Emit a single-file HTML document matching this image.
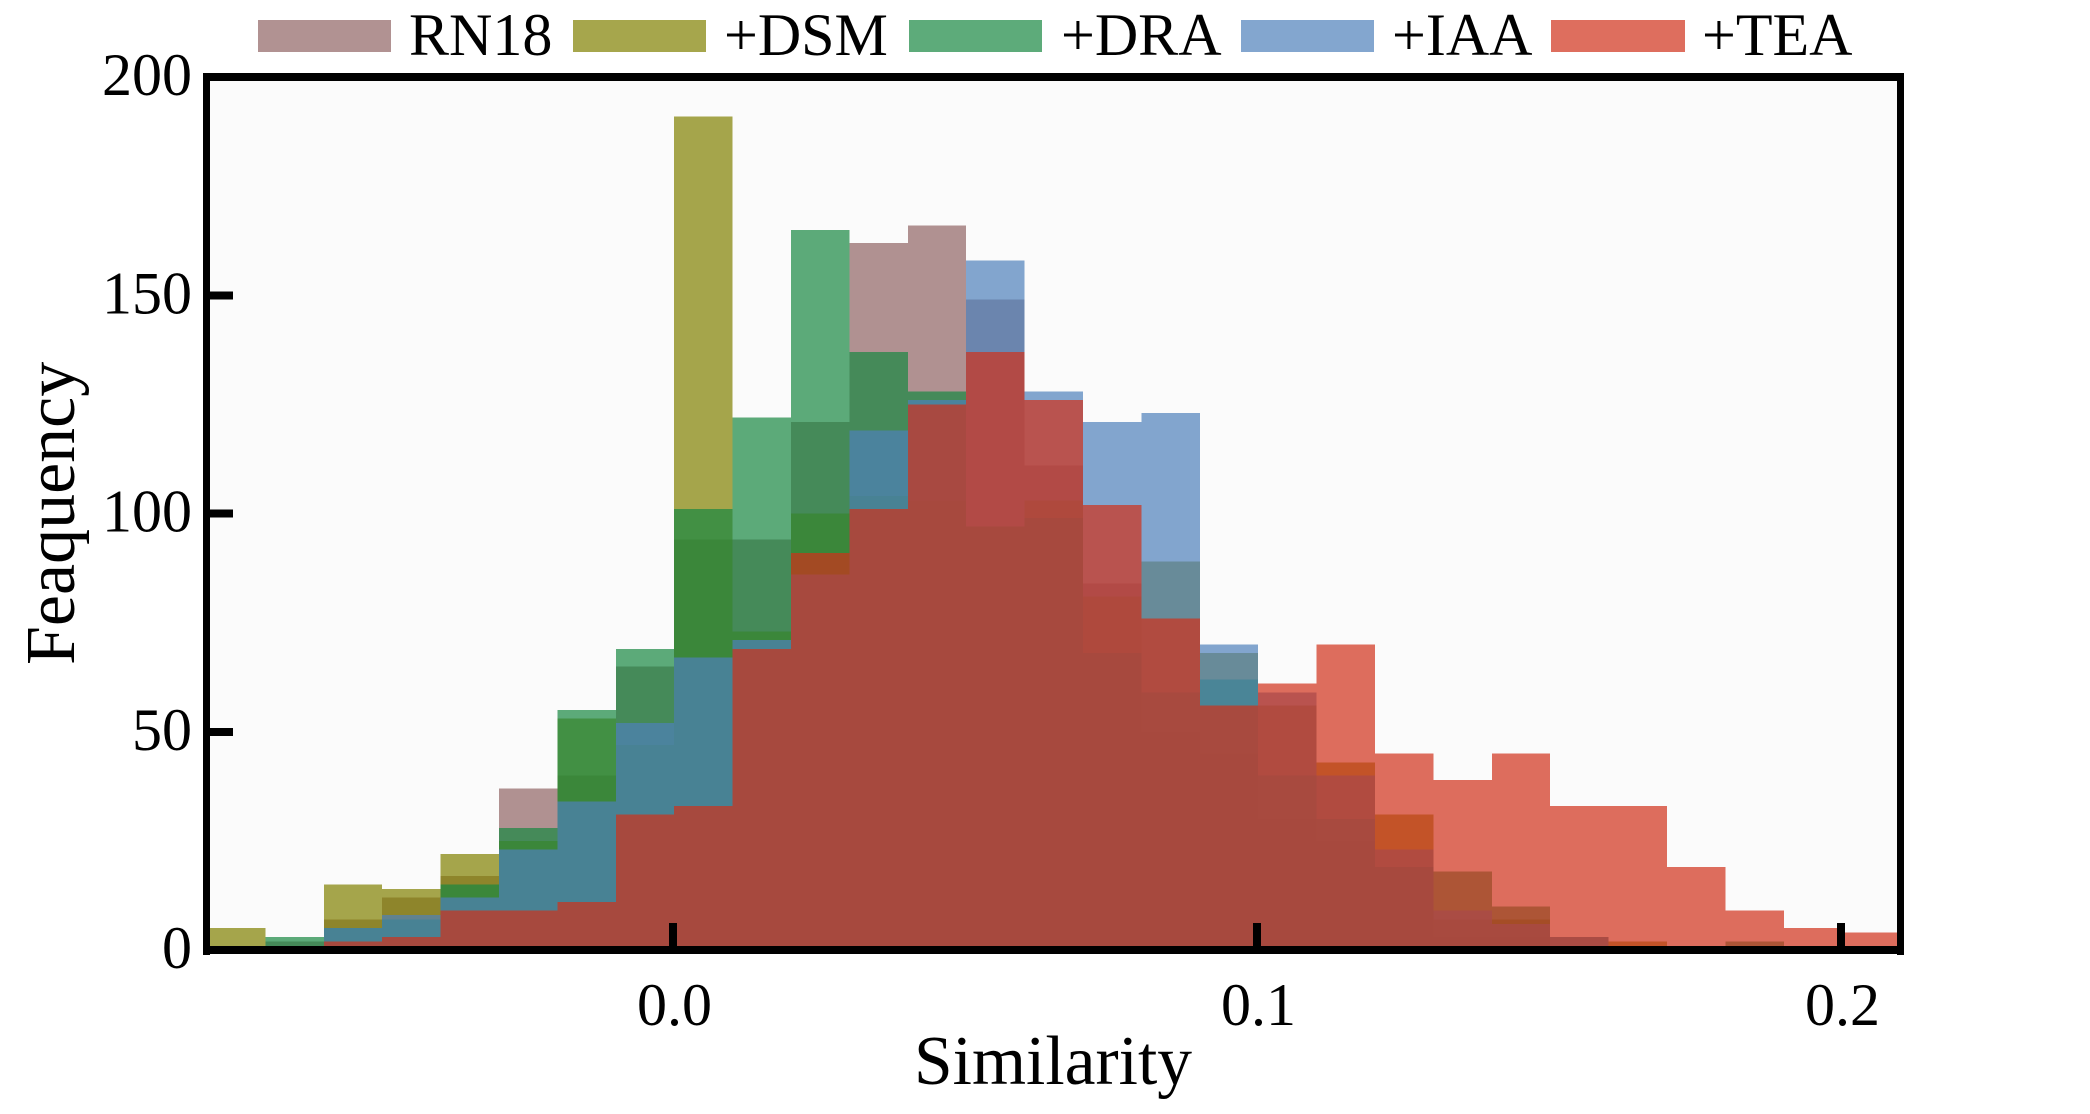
<!DOCTYPE html>
<html lang="en">
<head>
<meta charset="utf-8">
<title>Similarity histogram</title>
<style>
html,body{margin:0;padding:0;background:#fff;}
svg{display:block;font-family:"Liberation Serif","Times New Roman",serif;}
</style>
</head>
<body>
<svg id="chart" xmlns="http://www.w3.org/2000/svg" width="2090" height="1114" viewBox="0 0 2090 1114">
  <rect x="0" y="0" width="2090" height="1114" fill="#ffffff"/>
  <rect x="206" y="77" width="1695" height="873" fill="#fbfbfb"/>
  <g id="bars" shape-rendering="crispEdges"></g>
  <g id="frame" shape-rendering="crispEdges">
    <rect x="203" y="73" width="1701" height="8" fill="#000"/>
    <rect x="203" y="946" width="1701" height="8" fill="#000"/>
    <rect x="203" y="73" width="7" height="882" fill="#000"/>
    <rect x="1897" y="73" width="7" height="882" fill="#000"/>
  </g>
  <g id="x-ticks" shape-rendering="crispEdges"></g>
  <g id="y-ticks" shape-rendering="crispEdges"></g>
  <text x="914" y="1084" font-size="69.5" fill="#000">Similarity</text>
  <text transform="translate(74 665) rotate(-90)" x="0" y="0" font-size="70" fill="#000">Feaquency</text>
  <g>
    <rect x="258" y="20" width="133" height="32" fill="#906464" fill-opacity="0.7" shape-rendering="crispEdges"/>
    <text x="409" y="55" font-size="60" fill="#000">RN18</text>
    <rect x="573" y="20" width="133" height="32" fill="#808000" fill-opacity="0.7" shape-rendering="crispEdges"/>
    <text x="724" y="55" font-size="60" fill="#000">+DSM</text>
    <rect x="909" y="20" width="133" height="32" fill="#188742" fill-opacity="0.7" shape-rendering="crispEdges"/>
    <text x="1061" y="55" font-size="60" fill="#000">+DRA</text>
    <rect x="1241" y="20" width="133" height="32" fill="#4e80ba" fill-opacity="0.7" shape-rendering="crispEdges"/>
    <text x="1392" y="55" font-size="60" fill="#000">+IAA</text>
    <rect x="1551" y="20" width="134" height="32" fill="#d03119" fill-opacity="0.7" shape-rendering="crispEdges"/>
    <text x="1702" y="55" font-size="60" fill="#000">+TEA</text>
  </g>
</svg>
<script>
// Histogram counts per bin; bins run from -0.08 upward in steps of 0.01.
const binStart = -0.0798;
const binWidth = 0.01;
const rn18 = [0,2,7,12,17,37,40,65,94,94,121,162,166,149,111,84,50,45,30,25,19,3,3,0,0,0,0,0,0];
const dsm  = [5,0,15,14,22,25,53,47,191,73,100,104,103,97,103,81,89,68,56,43,31,7,7,0,2,0,0,0,0];
const dra  = [0,3,5,7,15,28,55,69,101,122,165,137,128,97,99,68,59,62,40,30,19,18,10,3,0,0,2,0,0];
const iaa  = [0,0,5,8,12,23,34,52,67,71,86,119,126,158,128,121,123,70,59,40,23,9,6,3,0,0,0,0,0];
const tea  = [0,0,2,3,9,9,11,31,33,69,91,101,125,137,126,102,76,56,61,70,45,39,45,33,33,19,9,5,4];
const xTickValues = [0.0, 0.1, 0.2];
const xTickLabels = ["0.0", "0.1", "0.2"];
const yTickValues = [0, 50, 100, 150, 200];
const yTickLabels = ["0", "50", "100", "150", "200"];

const SVG_NS = "http://www.w3.org/2000/svg";
function xScale(v) { return 673 + 5840 * v; }
function yScale(v) { return 950 - 4.365 * v; }

const barsGroup = document.getElementById("bars");
function drawSeries(values, color, seriesName) {
  values.forEach(function (count, i) {
    if (count <= 0) return;
    const left = Math.max(xScale(binStart + i * binWidth), 207);
    const right = Math.min(xScale(binStart + (i + 1) * binWidth), 1900);
    const top = yScale(count);
    const r = document.createElementNS(SVG_NS, "rect");
    r.setAttribute("x", left);
    r.setAttribute("y", top);
    r.setAttribute("width", right - left);
    r.setAttribute("height", yScale(0) - top);
    r.setAttribute("fill", color);
    r.setAttribute("fill-opacity", "0.7");
    
    
    barsGroup.appendChild(r);
  });
}
drawSeries(rn18, "#906464", "rn18");
drawSeries(dsm, "#808000", "dsm");
drawSeries(dra, "#188742", "dra");
drawSeries(iaa, "#4e80ba", "iaa");
drawSeries(tea, "#d03119", "tea");

const xTicksGroup = document.getElementById("x-ticks");
xTickValues.forEach(function (v, i) {
  const cx = xScale(v);
  const t = document.createElementNS(SVG_NS, "rect");
  t.setAttribute("x", cx - 4);
  t.setAttribute("y", 923);
  t.setAttribute("width", 8);
  t.setAttribute("height", 24);
  t.setAttribute("fill", "#000");
  
  
  xTicksGroup.appendChild(t);
  const l = document.createElementNS(SVG_NS, "text");
  l.setAttribute("x", cx + 1.5);
  l.setAttribute("y", 1025);
  l.setAttribute("font-size", "60");
  l.setAttribute("text-anchor", "middle");
  l.textContent = xTickLabels[i];
  
  
  xTicksGroup.appendChild(l);
});

const yTicksGroup = document.getElementById("y-ticks");
yTickValues.forEach(function (v, i) {
  const cy = yScale(v);
  const t = document.createElementNS(SVG_NS, "rect");
  t.setAttribute("x", 209);
  t.setAttribute("y", cy - 4);
  t.setAttribute("width", 24);
  t.setAttribute("height", 8);
  t.setAttribute("fill", "#000");
  
  
  yTicksGroup.appendChild(t);
  const l = document.createElementNS(SVG_NS, "text");
  l.setAttribute("x", 192);
  l.setAttribute("y", cy + 18);
  l.setAttribute("font-size", "60");
  l.setAttribute("text-anchor", "end");
  l.textContent = yTickLabels[i];
  
  
  yTicksGroup.appendChild(l);
});
</script>
</body>
</html>
